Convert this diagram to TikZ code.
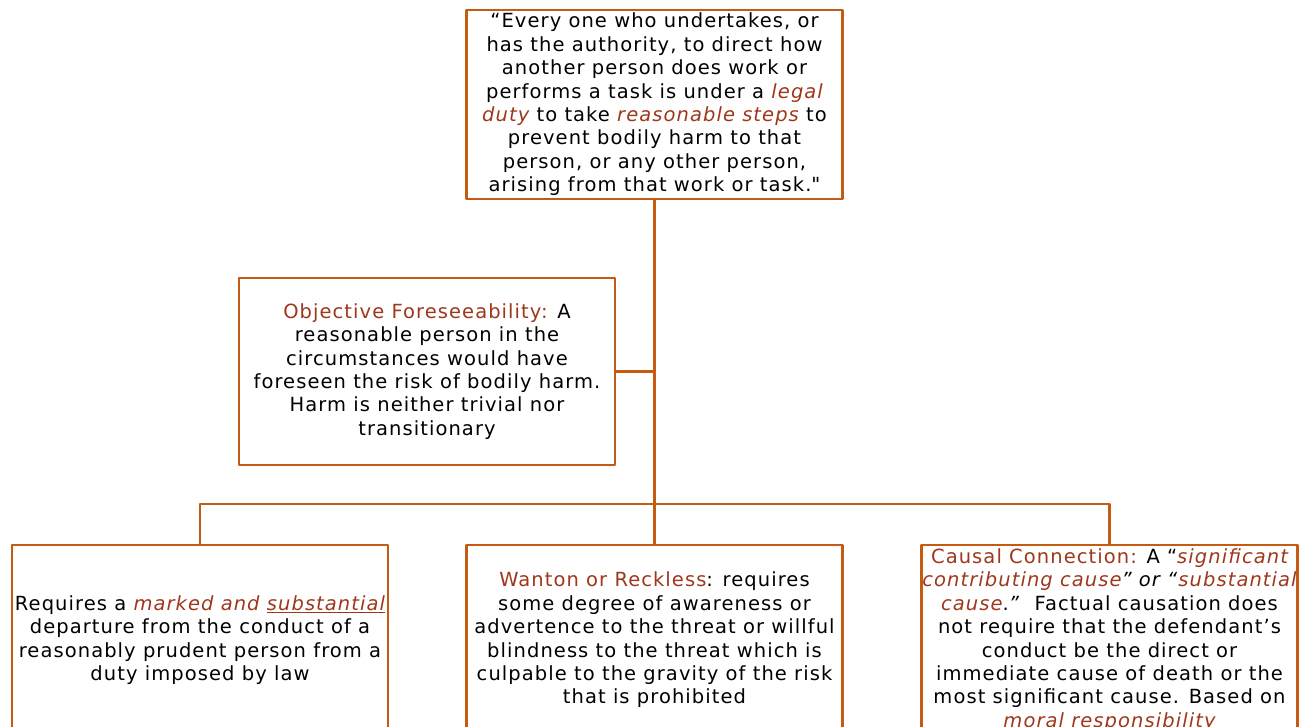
\documentclass[tikz,border=0pt]{standalone}
\usepackage{fontspec}
\setmainfont[LetterSpace=5.5]{DejaVu Sans}
\definecolor{rustline}{RGB}{197,90,17}
\definecolor{rusttext}{RGB}{158,56,28}
\newcommand{\hl}[1]{\textcolor{rusttext}{#1}}
\newcommand{\hli}[1]{\textcolor{rusttext}{\itshape #1}}
\begin{document}
\begin{tikzpicture}[x=1pt, y=-1pt, line join=round,
	font=\fontsize{19.5}{23.4}\selectfont,
	rule/.style={draw=rustline, line width=2.5pt, fill=white, align=center, inner sep=1pt, minimum width=376pt},
	link/.style={draw=rustline, line width=2.5pt}]
	\useasboundingbox (0,0) rectangle (1307,727);
	% boxes
	\node[rule, minimum height=189pt] (duty) at (654.5,104.5) {%
		“Every one who undertakes, or\\
		has the authority, to direct how\\
		another person does work or\\
		performs a task is under a \hli{legal}\\
		\hli{duty} to take \hli{reasonable steps} to\\
		prevent bodily harm to that\\
		person, or any other person,\\
		arising from that work or task.\textquotedbl};
	\node[rule, minimum height=187pt] (foresee) at (427,371.5) {%
		\hl{Objective Foreseeability:} A\\
		reasonable person in the\\
		circumstances would have\\
		foreseen the risk of bodily harm.\\
		Harm is neither trivial nor\\
		transitionary};
	\node[rule, minimum height=190pt] (marked) at (200,640) {%
		Requires a \hli{marked and \underline{substantial}}\\
		departure from the conduct of a\\
		reasonably prudent person from a\\
		duty imposed by law};
	\node[rule, minimum height=190pt] (wanton) at (654.5,640) {%
		\hl{Wanton or Reckless}: requires\\
		some degree of awareness or\\
		advertence to the threat or willful\\
		blindness to the threat which is\\
		culpable to the gravity of the risk\\
		that is prohibited};
	\node[rule, minimum width=375pt, minimum height=190pt] (cause) at (1109.5,640) {%
		\hl{Causal Connection:} A “\hli{significant}\\
		\hli{contributing cause}\textit{” or “}\hli{substantial}\\
		\hli{cause}.\textit{”}\ \ Factual causation does\\
		not require that the defendant’s\\
		conduct be the direct or\\
		immediate cause of death or the\\
		most significant cause. Based on\\
		\hli{moral responsibility}};
	% connectors
	\coordinate (bus) at (654.5,504);
	\draw[link] (duty.south) -- (wanton.north);
	\draw[link] (foresee.east) -- (foresee.east -| duty.south);
	\draw[link] (marked.north) |- (bus) -| (cause.north);
\end{tikzpicture}
\end{document}
